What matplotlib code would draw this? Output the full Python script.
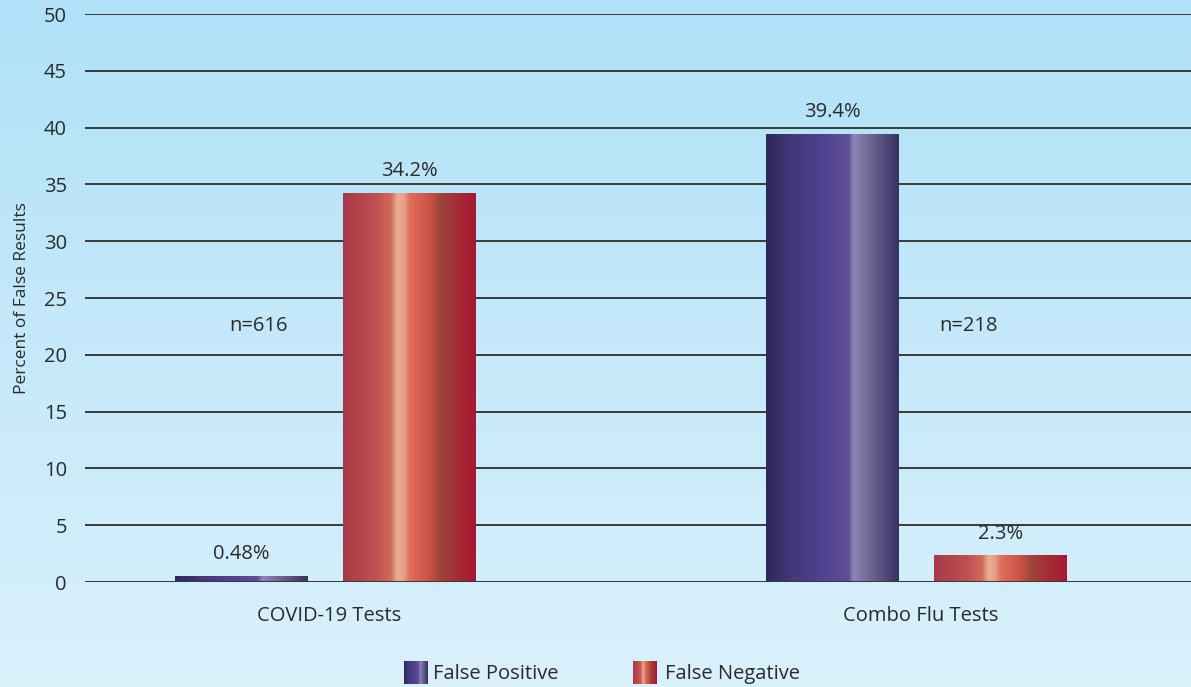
import numpy as np
import matplotlib
matplotlib.use('Agg')
import matplotlib.pyplot as plt
from matplotlib.colors import LinearSegmentedColormap

plt.rcParams['font.family'] = ['Open Sans', 'DejaVu Sans']

categories = ['COVID-19 Tests', 'Combo Flu Tests']
false_positive = [0.48, 39.4]
false_negative = [34.2, 2.3]
fp_labels = ['0.48%', '39.4%']
fn_labels = ['34.2%', '2.3%']
n_labels = ['n=616', 'n=218']
series_names = ['False Positive', 'False Negative']

#Cylinder-like shading for each series
purple_cmap = LinearSegmentedColormap.from_list('purple', [
    (0.0, '#2c285a'), (0.2, '#433879'), (0.45, '#514390'), (0.62, '#5f4f98'),
    (0.66, '#8e86b6'), (0.8, '#6c6290'), (1.0, '#363262')])
red_cmap = LinearSegmentedColormap.from_list('red', [
    (0.0, '#a83848'), (0.25, '#c05050'), (0.36, '#d06a5c'), (0.41, '#e8b090'),
    (0.46, '#e6a088'), (0.5, '#e0705c'), (0.65, '#cc5045'), (0.74, '#9c4538'),
    (0.85, '#a42e38'), (1.0, '#a81830')])
grad = np.linspace(0, 1, 256).reshape(1, -1)

fig = plt.figure(figsize=(11.91, 6.87), dpi=100)

#Background gradient over the whole figure
bg = fig.add_axes([0, 0, 1, 1], zorder=0)
bg_cmap = LinearSegmentedColormap.from_list('bg', ['#b0e1f8', '#daf1fc'])
bg.imshow(np.linspace(0, 1, 256).reshape(-1, 1), aspect='auto', cmap=bg_cmap,
          extent=[0, 1, 0, 1])
bg.axis('off')

ax = fig.add_axes([0.0714, 0.1528, 0.9286, 0.8268], zorder=1)
ax.set_facecolor('none')

x = np.arange(len(categories))
width = 0.225
offset = 0.142
txt = '#2a2a2a'

def gradient_bar(ax, xc, h, cmap):
    bars = ax.bar(xc, h, width, color='none', edgecolor='none', zorder=3)
    for b in bars:
        ax.imshow(grad, aspect='auto', cmap=cmap, zorder=3,
                  extent=[b.get_x(), b.get_x() + b.get_width(), 0, b.get_height()])
    return bars

gradient_bar(ax, x - offset, false_positive, purple_cmap)
gradient_bar(ax, x + offset, false_negative, red_cmap)

for i in range(len(categories)):
    ax.annotate(fp_labels[i], (x[i] - offset, false_positive[i]), xytext=(0, 16),
                textcoords='offset points', ha='center', va='center', fontsize=14.5, color=txt)
    ax.annotate(fn_labels[i], (x[i] + offset, false_negative[i]), xytext=(0, 16),
                textcoords='offset points', ha='center', va='center', fontsize=14.5, color=txt)
    ax.text(x[i] - 0.113 + 0.2 * i, 22.5, n_labels[i], ha='center', va='center',
            fontsize=14.5, color=txt)

ax.set_xlim(-0.407, 1.464)
ax.set_ylim(0, 50)
ax.set_yticks(range(0, 51, 5))
ax.yaxis.grid(True, color='#3a3a3a', linewidth=1.4, zorder=1)
ax.set_axisbelow(True)
ax.axhline(0, color='#3a3a3a', linewidth=1.4, zorder=4)
ax.set_xticks(x + 0.006)
ax.set_xticklabels(categories)
ax.tick_params(axis='both', length=0, labelsize=14.5, colors=txt)
ax.tick_params(axis='y', pad=13)
ax.tick_params(axis='x', pad=17)
for s in ax.spines.values():
    s.set_visible(False)
ax.set_ylabel('Percent of False Results', fontsize=12.5, color=txt, labelpad=10)

#Legend drawn by hand so the swatches keep the gradient
for (px, tx, cmap, name) in [(404, 433, purple_cmap, series_names[0]),
                             (633, 665, red_cmap, series_names[1])]:
    sw = fig.add_axes([px / 1191, 3 / 687, 24 / 1191, 23 / 687], zorder=2)
    sw.imshow(grad, aspect='auto', cmap=cmap)
    sw.axis('off')
    fig.text(tx / 1191, 13 / 687, name, ha='left', va='center', fontsize=14.5, color=txt)

fig.savefig('out.png', dpi=100)
